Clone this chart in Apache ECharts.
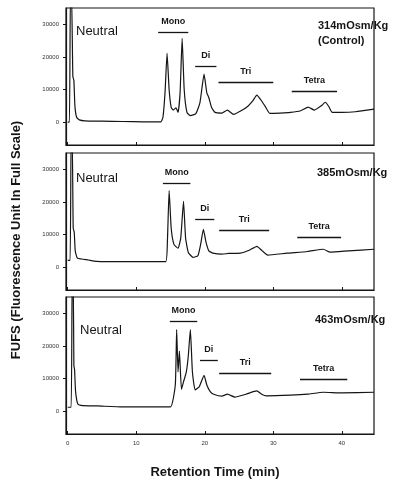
<!DOCTYPE html>
<html>
<head>
<meta charset="utf-8">
<script src="https://cdn.jsdelivr.net/npm/echarts@6/dist/echarts.min.js"></script>
<style>html,body{margin:0;padding:0;background:#fff;}#c{width:396px;height:481px;}</style>
</head>
<body>
<div id="c"></div>
<script>
// Retention time (min) and fluorescence (FUFS) for each osmolality
const time314 = [0, 0.25, 0.4, 0.55, 0.75, 0.9, 1.05, 1.3, 1.7, 2.5, 5, 8, 11, 13.6, 13.9, 14.2, 14.5, 14.8, 15.1, 15.4, 15.8, 16.1, 16.4, 16.7, 17.0, 17.4, 17.9, 18.7, 19.3, 19.9, 20.3, 20.6, 21.0, 21.5, 22.5, 23.3, 24.2, 25.3, 26.3, 27.0, 27.6, 28.2, 28.8, 29.5, 31, 32.5, 34, 35.1, 36, 37, 37.6, 38.1, 38.6, 40, 42, 44.7];
const fufs314 = [0, 0, 40000, 40000, 14000, 12800, 5000, 1500, 700, 400, 300, 200, 100, 100, 1500, 9000, 21100, 10000, 4500, 3700, 4400, 3000, 9000, 25700, 10000, 3000, 2000, 2600, 6000, 14700, 9000, 7500, 4500, 3000, 2800, 3700, 2400, 3500, 4900, 6500, 8300, 6800, 4900, 2700, 2800, 3000, 3500, 4600, 3700, 5000, 6100, 4800, 3000, 3000, 3200, 4000];

const time385 = [0, 0.35, 0.5, 0.65, 0.8, 0.95, 1.1, 1.4, 2.0, 3, 4.2, 8, 12, 14.3, 14.55, 14.8, 15.1, 15.5, 16.1, 16.5, 16.9, 17.2, 17.6, 18.3, 19.0, 19.4, 19.8, 20.2, 20.6, 21.2, 22.5, 23.5, 25.2, 26.5, 27.6, 28.4, 29.2, 32, 35, 37.3, 38.3, 41, 44.7];
const fufs385 = [2100, 2100, 40000, 40000, 12000, 10700, 5000, 2800, 2500, 2200, 1800, 1700, 1700, 1700, 8000, 23500, 12000, 7000, 5800, 9000, 20200, 9000, 4500, 3000, 3500, 7000, 11600, 7500, 5000, 4300, 4000, 4200, 4300, 5200, 6400, 5000, 3700, 4300, 4800, 5500, 4600, 5000, 5500];

const time463 = [0, 0.5, 0.65, 0.8, 0.9, 1.0, 1.15, 1.5, 2.2, 4.3, 8, 12, 15.0, 15.7, 15.9, 16.1, 16.3, 16.6, 16.9, 17.3, 17.6, 17.9, 18.2, 18.6, 19.2, 19.9, 20.3, 20.8, 21.3, 22.5, 23.3, 24.4, 26, 27.6, 28.3, 29.0, 32.5, 35, 37.3, 40, 44.7];
const fufs463 = [1200, 1200, 40000, 40000, 14000, 12800, 6000, 2100, 1700, 1600, 1300, 1300, 1300, 8000, 25000, 12000, 18400, 6700, 9000, 11900, 17000, 25000, 12000, 6500, 7500, 11000, 8000, 6000, 5200, 4600, 5200, 4300, 5200, 6200, 5200, 4700, 4900, 5200, 5800, 5600, 5800];

// peak-group annotations: [name, start time, end time, level]
const groups314 = [['Mono', 13.2, 17.6, 27500], ['Di', 18.6, 21.7, 17200], ['Tri', 22.0, 30.0, 12300], ['Tetra', 32.7, 39.3, 9600]];
const groups385 = [['Mono', 13.9, 17.9, 25700], ['Di', 18.6, 21.4, 14700], ['Tri', 22.1, 29.4, 11300], ['Tetra', 33.5, 39.9, 9200]];
const groups463 = [['Mono', 14.9, 18.9, 27500], ['Di', 19.3, 21.9, 15600], ['Tri', 22.1, 29.7, 11600], ['Tetra', 33.9, 40.8, 9800]];

const xTicks = [0, 10, 20, 30, 40];
const yTicks = [0, 10000, 20000, 30000];

const panels = [
  {t: time314, v: fufs314, g: groups314},
  {t: time385, v: fufs385, g: groups385},
  {t: time463, v: fufs463, g: groups463}
];
const tops = [8, 153, 297];
const ink = '#151515';

const chart = echarts.init(document.getElementById('c'), null, {renderer: 'canvas'});
const grids = [], xAxes = [], yAxes = [], series = [];
panels.forEach((p, i) => {
  grids.push({left: 66, right: 22, top: tops[i], height: 137, show: true, borderColor: ink, borderWidth: 1.2, backgroundColor: 'transparent'});
  xAxes.push({
    type: 'value', gridIndex: i, min: -0.25, max: 44.7,
    axisLine: {show: true, onZero: false, lineStyle: {color: ink, width: 1.2}},
    axisTick: {show: true, inside: true, length: 3, customValues: xTicks, lineStyle: {color: ink}},
    axisLabel: {show: i === 2, customValues: xTicks, formatter: v => String(v), fontSize: 6, color: '#333', margin: 6, fontFamily: 'Liberation Sans'},
    splitLine: {show: false}
  });
  yAxes.push({
    type: 'value', gridIndex: i, min: -7000, max: 35000,
    axisLine: {show: true, onZero: false, lineStyle: {color: ink, width: 1.2}},
    axisTick: {show: true, inside: false, length: 3, customValues: yTicks, lineStyle: {color: ink}},
    axisLabel: {customValues: yTicks, formatter: v => String(v), fontSize: 6, color: '#333', margin: 7, fontFamily: 'Liberation Sans'},
    splitLine: {show: false}
  });
  series.push({
    type: 'line', xAxisIndex: i, yAxisIndex: i,
    data: p.t.map((t, k) => [t, p.v[k]]),
    showSymbol: false, symbol: 'none', smooth: 0.15, clip: true,
    lineStyle: {color: ink, width: 1.2},
    markLine: {
      silent: true, symbol: 'none', animation: false,
      lineStyle: {color: ink, width: 1.3, type: 'solid'},
      label: {show: true, position: 'insideMiddleTop', distance: 6, formatter: '{b}', fontSize: 9, fontWeight: 'bold', color: ink, fontFamily: 'Liberation Sans'},
      data: p.g.map(g => [{name: g[0], coord: [g[1], g[3]]}, {coord: [g[2], g[3]]}])
    }
  });
});

const txt = (x, y, s) => ({type: 'text', left: x, top: y, style: {text: s, fill: ink, font: '13px "Liberation Sans"'}});
const bold = (x, y, s) => ({type: 'text', left: x, top: y, style: {text: s, fill: ink, font: 'bold 11px "Liberation Sans"'}});

chart.setOption({
  animation: false,
  backgroundColor: '#fff',
  grid: grids, xAxis: xAxes, yAxis: yAxes, series: series,
  graphic: [
    txt(76, 25, 'Neutral'), txt(76, 172, 'Neutral'), txt(80, 324, 'Neutral'),
    bold(318, 20, '314mOsm/Kg'), bold(318, 35, '(Control)'),
    bold(317, 167, '385mOsm/Kg'), bold(315, 314, '463mOsm/Kg'),
    {type: 'text', x: 215, y: 472, style: {text: 'Retention Time (min)', fill: ink, font: 'bold 13px "Liberation Sans"', align: 'center', verticalAlign: 'middle'}},
    {type: 'text', x: 16, y: 240, rotation: Math.PI / 2, style: {text: 'FUFS (Fluorescence Unit In Full Scale)', fill: ink, font: 'bold 13px "Liberation Sans"', align: 'center', verticalAlign: 'middle'}}
  ]
});
</script>
</body>
</html>
